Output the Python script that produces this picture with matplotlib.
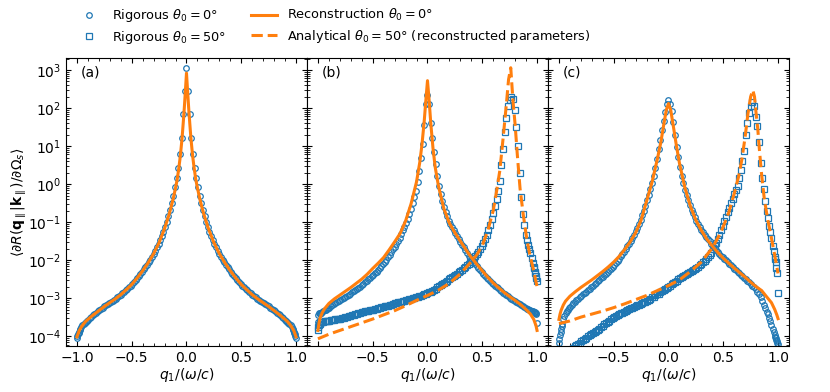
import numpy as np
import matplotlib
matplotlib.use('Agg')
import matplotlib.pyplot as plt
from matplotlib.ticker import LogLocator, MultipleLocator, NullFormatter

# y values are decade exponents (log10)

# q grid of the rigorous (marker) data, shared by every panel
q_rig = [-1.0, -0.995, -0.99, -0.985, -0.98, -0.975, -0.97, -0.96, -0.95, -0.94, -0.93, -0.92, -0.91, -0.90,
         -0.885, -0.87, -0.855, -0.84, -0.825, -0.81, -0.795, -0.78, -0.765, -0.75,
         -0.735, -0.72, -0.705, -0.69, -0.675, -0.66, -0.645, -0.63, -0.615, -0.60,
         -0.585, -0.57, -0.555, -0.54, -0.525, -0.51, -0.495, -0.48, -0.465, -0.45,
         -0.435, -0.42, -0.405, -0.39, -0.375, -0.36, -0.345, -0.33, -0.315, -0.30,
         -0.285, -0.27, -0.255, -0.24, -0.225, -0.21, -0.195, -0.18, -0.165, -0.15,
         -0.135, -0.12, -0.105, -0.09, -0.075, -0.06, -0.045, -0.03, -0.015, 0.0,
         0.015, 0.03, 0.045, 0.06, 0.075, 0.09, 0.105, 0.12, 0.135, 0.15,
         0.165, 0.18, 0.195, 0.21, 0.225, 0.24, 0.255, 0.27, 0.285, 0.30,
         0.315, 0.33, 0.345, 0.36, 0.375, 0.39, 0.405, 0.42, 0.435, 0.45,
         0.465, 0.48, 0.495, 0.51, 0.525, 0.54, 0.555, 0.57, 0.585, 0.60,
         0.615, 0.63, 0.645, 0.66, 0.675, 0.69, 0.705, 0.72, 0.735, 0.75,
         0.765, 0.78, 0.795, 0.81, 0.825, 0.84, 0.855, 0.87, 0.885, 0.90,
         0.91, 0.92, 0.93, 0.94, 0.95, 0.96, 0.97, 0.975, 0.98, 0.985, 0.99, 0.995, 1.0]

# ---- panel (a) ----
rig0_a = [-4.05, -4.00, -3.95, -3.91, -3.88, -3.85, -3.82, -3.77, -3.72, -3.685, -3.65, -3.62, -3.59, -3.565,
          -3.53, -3.49, -3.455, -3.42, -3.385, -3.35, -3.32, -3.29, -3.255, -3.22,
          -3.19, -3.16, -3.13, -3.10, -3.07, -3.04, -3.01, -2.98, -2.945, -2.91,
          -2.875, -2.835, -2.795, -2.755, -2.715, -2.67, -2.625, -2.58, -2.53, -2.475,
          -2.42, -2.36, -2.30, -2.24, -2.18, -2.12, -2.055, -1.99, -1.915, -1.835,
          -1.75, -1.665, -1.575, -1.475, -1.37, -1.255, -1.13, -0.995, -0.85, -0.69,
          -0.51, -0.31, -0.09, 0.15, 0.42, 0.78, 1.22, 1.85, 2.45, 3.05,
          2.45, 1.85, 1.22, 0.78, 0.42, 0.15, -0.09, -0.31, -0.51, -0.69,
          -0.85, -0.995, -1.13, -1.255, -1.37, -1.475, -1.575, -1.665, -1.75, -1.835,
          -1.915, -1.99, -2.055, -2.12, -2.18, -2.24, -2.30, -2.36, -2.42, -2.475,
          -2.53, -2.58, -2.625, -2.67, -2.715, -2.755, -2.795, -2.835, -2.875, -2.91,
          -2.945, -2.98, -3.01, -3.04, -3.07, -3.10, -3.13, -3.16, -3.19, -3.22,
          -3.255, -3.29, -3.32, -3.35, -3.385, -3.42, -3.455, -3.49, -3.53, -3.565,
          -3.59, -3.62, -3.65, -3.685, -3.72, -3.77, -3.82, -3.85, -3.88, -3.91, -3.95, -4.00, -4.05]

q_a_rec = [-1.0, -0.98, -0.96, -0.94, -0.92, -0.90, -0.85, -0.80, -0.75, -0.70, -0.65, -0.60,
           -0.55, -0.50, -0.45, -0.40, -0.35, -0.30, -0.25, -0.20, -0.16, -0.14, -0.12, -0.10,
           -0.085, -0.07, -0.06, -0.05, -0.04, -0.03, -0.02, -0.01, 0.0,
           0.01, 0.02, 0.03, 0.04, 0.05, 0.06, 0.07, 0.085, 0.10, 0.12, 0.14, 0.16, 0.20,
           0.25, 0.30, 0.35, 0.40, 0.45, 0.50, 0.55, 0.60, 0.65, 0.70, 0.75, 0.80, 0.85,
           0.90, 0.92, 0.94, 0.96, 0.98, 1.0]
rec0_a = [-4.02, -3.86, -3.76, -3.68, -3.61, -3.56, -3.44, -3.33, -3.22, -3.12, -3.02, -2.91,
          -2.78, -2.64, -2.47, -2.28, -2.07, -1.83, -1.54, -1.17, -0.81, -0.60, -0.37, -0.10,
          0.12, 0.42, 0.65, 0.92, 1.22, 1.60, 2.00, 2.45, 2.92,
          2.45, 2.00, 1.60, 1.22, 0.92, 0.65, 0.42, 0.12, -0.10, -0.37, -0.60, -0.81, -1.17,
          -1.54, -1.83, -2.07, -2.28, -2.47, -2.64, -2.78, -2.91, -3.02, -3.12, -3.22, -3.33,
          -3.44, -3.56, -3.61, -3.68, -3.76, -3.86, -4.02]

# ---- panel (b) ----
rig0_b = [-3.62, -3.45, -3.38, -3.42, -3.40, -3.40, -3.38, -3.36, -3.34, -3.32, -3.30, -3.285, -3.27, -3.25,
          -3.22, -3.19, -3.16, -3.13, -3.10, -3.075, -3.05, -3.02, -2.99, -2.965,
          -2.94, -2.91, -2.88, -2.85, -2.82, -2.79, -2.76, -2.73, -2.70, -2.66,
          -2.625, -2.585, -2.55, -2.51, -2.47, -2.43, -2.39, -2.35, -2.30, -2.25,
          -2.20, -2.15, -2.10, -2.045, -1.99, -1.93, -1.865, -1.795, -1.72, -1.65,
          -1.57, -1.49, -1.41, -1.32, -1.22, -1.12, -1.02, -0.91, -0.78, -0.65,
          -0.50, -0.35, -0.18, 0.05, 0.35, 0.68, 1.05, 1.55, 2.10, 2.35,
          2.10, 1.60, 1.20, 0.85, 0.52, 0.22, -0.04, -0.25, -0.44, -0.60,
          -0.73, -0.85, -0.96, -1.05, -1.14, -1.22, -1.30, -1.37, -1.45, -1.52,
          -1.59, -1.66, -1.74, -1.82, -1.88, -1.94, -2.00, -2.06, -2.11, -2.165,
          -2.22, -2.27, -2.32, -2.36, -2.41, -2.46, -2.505, -2.55, -2.59, -2.63,
          -2.67, -2.705, -2.74, -2.78, -2.82, -2.855, -2.89, -2.92, -2.955, -2.99,
          -3.02, -3.05, -3.08, -3.11, -3.135, -3.16, -3.185, -3.21, -3.235, -3.26,
          -3.275, -3.29, -3.305, -3.32, -3.33, -3.345, -3.36, -3.37, -3.375, -3.38, -3.40, -3.42, -3.65]

rig50_b = [-3.84, -3.75, -3.70, -3.67, -3.64, -3.63, -3.625, -3.62, -3.615, -3.61, -3.605, -3.60, -3.595, -3.59,
           -3.585, -3.575, -3.57, -3.56, -3.555, -3.545, -3.54, -3.525, -3.515, -3.50,
           -3.49, -3.48, -3.465, -3.45, -3.435, -3.42, -3.405, -3.39, -3.38, -3.37,
           -3.36, -3.35, -3.34, -3.33, -3.32, -3.31, -3.30, -3.29, -3.28, -3.27,
           -3.255, -3.245, -3.235, -3.22, -3.21, -3.20, -3.185, -3.17, -3.155, -3.14,
           -3.13, -3.115, -3.10, -3.09, -3.08, -3.065, -3.055, -3.045, -3.03, -3.02,
           -3.005, -2.99, -2.98, -2.965, -2.95, -2.935, -2.915, -2.90, -2.885, -2.87,
           -2.85, -2.83, -2.81, -2.78, -2.75, -2.72, -2.69, -2.66, -2.63, -2.60,
           -2.57, -2.54, -2.51, -2.48, -2.45, -2.42, -2.39, -2.36, -2.32, -2.29,
           -2.25, -2.22, -2.18, -2.14, -2.09, -2.05, -2.00, -1.95, -1.90, -1.84,
           -1.78, -1.72, -1.64, -1.55, -1.45, -1.35, -1.22, -1.08, -0.92, -0.76,
           -0.58, -0.39, -0.17, 0.08, 0.50, 0.92, 1.38, 1.75, 2.05, 2.22,
           2.28, 2.25, 1.95, 1.50, 1.00, 0.30, -0.35, -0.78, -1.08, -1.35,
           -1.48, -1.60, -1.70, -1.80, -1.95, -2.07, -2.18, -2.22, -2.30, -2.35, -2.42, -2.48, -2.54]

q_b_rec0 = [-1.0, -0.99, -0.98, -0.96, -0.94, -0.90, -0.85, -0.80, -0.75, -0.70, -0.65, -0.60,
            -0.55, -0.50, -0.45, -0.40, -0.35, -0.30, -0.25, -0.20, -0.15, -0.10, -0.07,
            -0.05, -0.03, -0.015, 0.0,
            0.015, 0.03, 0.05, 0.07, 0.10, 0.15, 0.20, 0.25, 0.30, 0.35, 0.40, 0.45, 0.50,
            0.55, 0.60, 0.65, 0.70, 0.75, 0.80, 0.85, 0.90, 0.94, 0.97, 0.99, 1.0]
rec0_b = [-3.85, -3.65, -3.52, -3.38, -3.28, -3.14, -3.02, -2.92, -2.82, -2.72, -2.61, -2.50,
          -2.37, -2.22, -2.08, -1.93, -1.73, -1.52, -1.30, -0.97, -0.52, 0.06, 0.58,
          1.05, 1.65, 2.20, 2.72,
          2.20, 1.60, 0.95, 0.45, -0.05, -0.65, -1.03, -1.28, -1.50, -1.72, -1.93, -2.11,
          -2.28, -2.45, -2.60, -2.73, -2.85, -2.96, -3.06, -3.17, -3.30, -3.42, -3.56, -3.72,
          -3.85]

q_b_ana50 = [-1.0, -0.9, -0.8, -0.7, -0.6, -0.5, -0.4, -0.3, -0.2, -0.1, 0.0, 0.1, 0.2, 0.3,
             0.35, 0.4, 0.45, 0.5, 0.55, 0.6, 0.63, 0.66, 0.69, 0.72, 0.74, 0.76, 0.78, 0.80,
             0.82, 0.845, 0.875, 0.905, 0.935, 0.965, 1.0]
ana50_b = [-4.07, -3.95, -3.85, -3.75, -3.65, -3.55, -3.44, -3.33, -3.20, -3.06, -2.93,
           -2.79, -2.61, -2.36, -2.20, -2.04, -1.86, -1.62, -1.23, -0.70, -0.20, 0.35, 1.20,
           2.10, 2.75, 3.06, 2.20, 1.56, 0.77, -0.12, -0.82, -1.42, -1.87, -2.22, -2.70]

# ---- panel (c) ----
rig0_c = [-4.19, -4.07, -3.97, -3.88, -3.80, -3.73, -3.67, -3.56, -3.47, -3.40, -3.35, -3.30, -3.265, -3.23,
          -3.18, -3.13, -3.09, -3.05, -3.01, -2.975, -2.94, -2.90, -2.865, -2.83,
          -2.79, -2.75, -2.71, -2.675, -2.64, -2.60, -2.56, -2.52, -2.48, -2.44,
          -2.40, -2.36, -2.32, -2.27, -2.225, -2.175, -2.125, -2.07, -2.015, -1.96,
          -1.90, -1.84, -1.78, -1.71, -1.64, -1.57, -1.49, -1.41, -1.33, -1.24,
          -1.15, -1.06, -0.94, -0.82, -0.70, -0.57, -0.43, -0.29, -0.13, 0.04,
          0.22, 0.42, 0.67, 0.92, 1.17, 1.42, 1.67, 1.90, 2.10, 2.20,
          2.10, 1.92, 1.62, 1.30, 0.98, 0.70, 0.45, 0.22, 0.02, -0.15,
          -0.30, -0.43, -0.56, -0.67, -0.77, -0.87, -0.96, -1.05, -1.13, -1.20,
          -1.27, -1.33, -1.39, -1.45, -1.51, -1.57, -1.63, -1.68, -1.73, -1.78,
          -1.83, -1.88, -1.93, -1.97, -2.01, -2.055, -2.10, -2.14, -2.185, -2.23,
          -2.27, -2.31, -2.35, -2.39, -2.425, -2.46, -2.50, -2.54, -2.58, -2.62,
          -2.67, -2.72, -2.77, -2.83, -2.90, -2.98, -3.07, -3.17, -3.27, -3.36,
          -3.43, -3.51, -3.60, -3.72, -3.82, -3.89, -3.97, -4.01, -4.05, -4.10, -4.14, -4.18, -4.21]

rig50_c = [-4.75, -4.73, -4.71, -4.69, -4.67, -4.65, -4.63, -4.59, -4.55, -4.51, -4.47, -4.44, -4.41, -4.38,
           -4.34, -4.31, -4.27, -4.23, -4.20, -4.17, -4.14, -4.10, -4.07, -4.04,
           -4.00, -3.97, -3.95, -3.92, -3.89, -3.86, -3.83, -3.80, -3.77, -3.73,
           -3.69, -3.66, -3.62, -3.59, -3.56, -3.53, -3.50, -3.47, -3.45, -3.43,
           -3.40, -3.38, -3.36, -3.34, -3.31, -3.29, -3.27, -3.25, -3.23, -3.21,
           -3.19, -3.17, -3.15, -3.13, -3.11, -3.09, -3.07, -3.04, -3.01, -2.98,
           -2.96, -2.93, -2.90, -2.88, -2.85, -2.82, -2.79, -2.76, -2.73, -2.70,
           -2.67, -2.64, -2.61, -2.57, -2.54, -2.51, -2.48, -2.44, -2.42, -2.39,
           -2.37, -2.34, -2.31, -2.29, -2.26, -2.23, -2.20, -2.17, -2.14, -2.10,
           -2.06, -2.02, -1.98, -1.93, -1.87, -1.80, -1.72, -1.63, -1.54, -1.44,
           -1.33, -1.21, -1.10, -0.98, -0.86, -0.74, -0.62, -0.50, -0.39, -0.27,
           -0.16, -0.04, 0.15, 0.38, 0.60, 0.88, 1.30, 1.60, 1.86, 2.06,
           2.16, 2.05, 1.76, 1.52, 1.10, 0.55, 0.15, -0.12, -0.44, -0.72,
           -0.90, -1.09, -1.25, -1.42, -1.62, -1.76, -1.92, -1.98, -2.05, -2.20, -2.35, np.nan, -2.87]

q_c_rec0 = [-1.0, -0.99, -0.98, -0.96, -0.94, -0.90, -0.85, -0.80, -0.75, -0.70, -0.65,
            -0.60, -0.55, -0.50, -0.45, -0.40, -0.35, -0.30, -0.25, -0.20, -0.15, -0.10,
            -0.07, -0.04, -0.02, 0.0,
            0.02, 0.04, 0.07, 0.10, 0.15, 0.20, 0.25, 0.30, 0.35, 0.40, 0.45, 0.50, 0.55,
            0.60, 0.65, 0.70, 0.75, 0.80, 0.85, 0.90, 0.94, 0.97, 0.99, 1.0]
rec0_c = [-3.56, -3.42, -3.32, -3.18, -3.08, -2.95, -2.83, -2.72, -2.62, -2.52, -2.41,
          -2.30, -2.18, -2.05, -1.90, -1.72, -1.52, -1.28, -0.95, -0.45, 0.05, 0.68,
          1.10, 1.62, 1.95, 2.12,
          1.95, 1.60, 1.05, 0.55, -0.10, -0.58, -0.95, -1.22, -1.45, -1.63, -1.80, -1.95,
          -2.08, -2.21, -2.33, -2.45, -2.58, -2.70, -2.80, -2.98, -3.12, -3.30, -3.45, -3.54]

q_c_ana50 = [-1.0, -0.9, -0.8, -0.7, -0.6, -0.5, -0.4, -0.3, -0.2, -0.1, 0.0, 0.1, 0.2, 0.3,
             0.4, 0.48, 0.55, 0.6, 0.64, 0.67, 0.70, 0.725, 0.75, 0.77, 0.785, 0.80, 0.815,
             0.83, 0.85, 0.875, 0.905, 0.935, 0.965, 1.0]
ana50_c = [-3.67, -3.60, -3.50, -3.42, -3.34, -3.25, -3.15, -3.04, -2.93, -2.80, -2.67,
           -2.52, -2.30, -2.05, -1.68, -1.26, -0.75, -0.25, 0.20, 0.65, 1.25, 1.85, 2.30,
           2.47, 2.30, 1.85, 1.45, 0.90, 0.25, -0.40, -0.92, -1.35, -1.80, -2.35]

panel_tags = ['(a)', '(b)', '(c)']
y_decades = [-4, -3, -2, -1, 0, 1, 2, 3]

blue = '#1f77b4'
orange = '#ff7f0e'


def dec(v):
    return 10.0 ** np.asarray(v, dtype=float)


plt.rcParams['font.size'] = 10

fig, axes = plt.subplots(1, 3, sharey=True, figsize=(8.3, 3.92), dpi=100)
fig.subplots_adjust(left=0.0795, right=0.9506, bottom=0.117, top=0.852, wspace=0)

mk = dict(ls='none', mfc='none', mec=blue, ms=4, mew=0.9)

ax = axes[0]
ax.plot(q_rig, dec(rig0_a), marker='o', **mk)
ax.plot(q_a_rec, dec(rec0_a), color=orange, lw=2.2)

ax = axes[1]
h1, = ax.plot(q_rig, dec(rig0_b), marker='o', label=r'Rigorous $\theta_0 = 0\degree$', **mk)
h2, = ax.plot(q_rig, dec(rig50_b), marker='s', label=r'Rigorous $\theta_0 = 50\degree$', **mk)
h3, = ax.plot(q_b_rec0, dec(rec0_b), color=orange, lw=2.2, label=r'Reconstruction $\theta_0 = 0\degree$')
h4, = ax.plot(q_b_ana50, dec(ana50_b), color=orange, lw=2.2, ls='--',
              label=r'Analytical $\theta_0 = 50\degree$ (reconstructed parameters)')

ax = axes[2]
ax.plot(q_rig, dec(rig0_c), marker='o', **mk)
ax.plot(q_rig, dec(rig50_c), marker='s', **mk)
ax.plot(q_c_rec0, dec(rec0_c), color=orange, lw=2.2)
ax.plot(q_c_ana50, dec(ana50_c), color=orange, lw=2.2, ls='--')

for i, ax in enumerate(axes):
    ax.set_yscale('log')
    ax.set_xlim(-1.1, 1.1)
    ax.set_ylim(10 ** -4.263, 10 ** 3.316)
    ax.set_xticks([-1.0, -0.5, 0.0, 0.5, 1.0])
    ax.set_yticks(dec(y_decades))
    ax.xaxis.set_minor_locator(MultipleLocator(0.1))
    ax.yaxis.set_minor_locator(LogLocator(base=10, subs=np.arange(2, 10), numticks=20))
    ax.yaxis.set_minor_formatter(NullFormatter())
    ax.tick_params(which='both', direction='in', top=True, right=True)
    ax.set_xlabel(r'$q_1/(\omega/c)$', labelpad=1)
    ax.text(0.06, 0.95, panel_tags[i], transform=ax.transAxes, ha='left', va='center')
    if i > 0:
        ax.xaxis.get_major_ticks()[0].label1.set_visible(False)

axes[0].set_ylabel(r'$\langle \partial R(\mathbf{q}_\parallel|\mathbf{k}_\parallel)/\partial\Omega_s \rangle$',
                   labelpad=-1)

fig.legend(handles=[h1, h2, h3, h4], ncol=2, loc='upper left', bbox_to_anchor=(71 / 830, 0.995),
           frameon=False, borderaxespad=0, columnspacing=1.9, labelspacing=0.35, fontsize=9.3)

fig.savefig('out.png', dpi=100)
